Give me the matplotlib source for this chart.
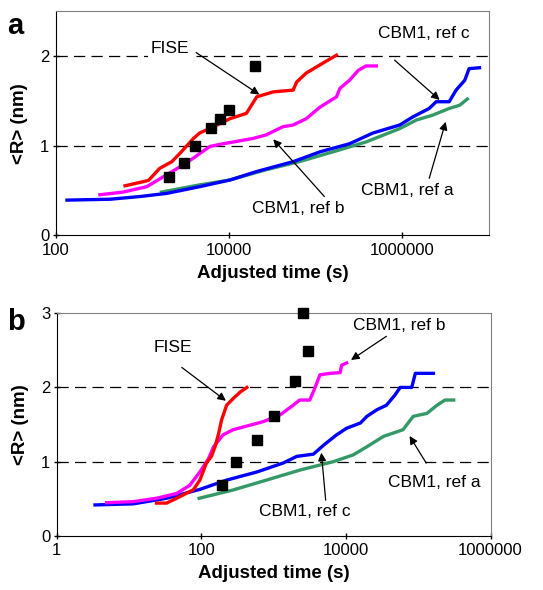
import numpy as np
import matplotlib.pyplot as plt
from matplotlib.ticker import FixedLocator, FixedFormatter, NullLocator

plt.rcParams['font.family'] = ['Liberation Sans', 'DejaVu Sans']

# ---- panel a data (log10 of time, <R> in nm) ----
a_fise_lx = [2.80, 3.07, 3.20, 3.34, 3.45, 3.59, 3.66, 3.82, 4.01, 4.20, 4.32, 4.51, 4.74, 4.78, 4.89, 5.08, 5.24]
a_fise_r = [0.55, 0.61, 0.745, 0.82, 0.93, 1.08, 1.14, 1.21, 1.30, 1.36, 1.545, 1.60, 1.62, 1.71, 1.81, 1.92, 2.01]
a_refb_lx = [2.51, 2.78, 3.05, 3.24, 3.43, 3.59, 3.66, 3.78, 3.93, 4.05, 4.28, 4.43, 4.62, 4.74, 4.89, 5.05, 5.24, 5.28, 5.39, 5.49, 5.58, 5.70]
a_refb_r = [0.45, 0.48, 0.54, 0.65, 0.76, 0.86, 0.91, 0.99, 1.02, 1.04, 1.08, 1.12, 1.21, 1.23, 1.30, 1.43, 1.545, 1.64, 1.73, 1.84, 1.89, 1.89]
a_refc_lx = [2.13, 2.63, 2.97, 3.28, 3.66, 4.01, 4.32, 4.74, 5.05, 5.39, 5.66, 5.97, 6.12, 6.31, 6.39, 6.54, 6.62, 6.72, 6.77, 6.89]
a_refc_r = [0.39, 0.40, 0.43, 0.465, 0.54, 0.615, 0.71, 0.82, 0.93, 1.02, 1.14, 1.23, 1.32, 1.415, 1.49, 1.49, 1.62, 1.73, 1.86, 1.87]
a_refa_lx = [3.22, 3.66, 4.01, 4.43, 4.81, 5.20, 5.58, 5.97, 6.16, 6.35, 6.54, 6.66, 6.75]
a_refa_r = [0.48, 0.56, 0.615, 0.73, 0.82, 0.93, 1.04, 1.19, 1.285, 1.34, 1.415, 1.45, 1.52]
a_sq_lx = [3.31, 3.48, 3.61, 3.79, 3.89, 4.00, 4.30]
a_sq_r = [0.645, 0.80, 1.00, 1.20, 1.30, 1.40, 1.89]

# ---- panel b data ----
b_fise_lx = [1.38, 1.52, 1.71, 1.89, 1.98, 2.07, 2.14, 2.19, 2.24, 2.28, 2.35, 2.44, 2.54, 2.63]
b_fise_r = [0.44, 0.44, 0.53, 0.62, 0.75, 0.98, 1.07, 1.20, 1.38, 1.56, 1.76, 1.85, 1.94, 2.00]
b_refb_lx = [0.69, 1.06, 1.38, 1.66, 1.84, 1.98, 2.10, 2.17, 2.30, 2.44, 2.67, 2.86, 3.09, 3.27, 3.36, 3.50, 3.57, 3.64, 3.78, 3.92, 3.94, 4.01]
b_refb_r = [0.445, 0.46, 0.505, 0.57, 0.68, 0.86, 1.04, 1.20, 1.36, 1.43, 1.49, 1.54, 1.63, 1.76, 1.83, 1.83, 1.99, 2.17, 2.19, 2.20, 2.30, 2.33]
b_refc_lx = [0.53, 1.06, 1.52, 1.98, 2.35, 2.77, 3.13, 3.32, 3.55, 3.69, 3.87, 4.01, 4.20, 4.29, 4.43, 4.56, 4.68, 4.75, 4.91, 4.96, 5.21]
b_refc_r = [0.415, 0.43, 0.505, 0.625, 0.75, 0.86, 0.98, 1.07, 1.10, 1.22, 1.36, 1.45, 1.52, 1.61, 1.70, 1.76, 1.90, 2.00, 2.00, 2.19, 2.19]
b_refa_lx = [1.97, 2.44, 2.90, 3.37, 3.83, 4.10, 4.29, 4.52, 4.79, 4.93, 5.12, 5.26, 5.37, 5.49]
b_refa_r = [0.505, 0.617, 0.75, 0.887, 1.00, 1.09, 1.20, 1.34, 1.43, 1.61, 1.65, 1.76, 1.83, 1.83]
b_sq_lx = [2.28, 2.48, 2.77, 3.01, 3.30, 3.40, 3.48]
b_sq_r = [0.69, 1.00, 1.29, 1.61, 2.09, 3.00, 2.49]

RED, MAG, BLUE, GREEN = '#ff0000', '#ff00ff', '#0000ff', '#339966'


def setup(ax, xlim, ylim, xticks, yticks):
    ax.set_xscale('log')
    ax.set_xlim(*xlim)
    ax.set_ylim(*ylim)
    ax.xaxis.set_major_locator(FixedLocator(xticks))
    ax.xaxis.set_major_formatter(FixedFormatter([str(int(t)) for t in xticks]))
    ax.xaxis.set_minor_locator(NullLocator())
    ax.set_yticks(yticks)
    ax.set_yticklabels([str(t) for t in yticks])
    ax.tick_params(axis='both', direction='inout', length=5, width=1, labelsize=12)
    ax.tick_params(axis='x', pad=3)
    ax.tick_params(axis='y', pad=2)
    for s in ['top', 'right']:
        ax.spines[s].set_color('#808080')
    for s in ['left', 'bottom']:
        ax.spines[s].set_color('black')
    for y in (1, 2):
        ax.axhline(y, color='black', lw=0.9, dashes=(9, 5), zorder=1)
    ax.set_xlabel('Adjusted time (s)', fontsize=13.5, fontweight='bold', labelpad=5)
    ax.set_ylabel('<R> (nm)', fontsize=13.5, fontweight='bold', labelpad=9)


def curve(ax, lx, r, c):
    ax.plot(10 ** np.array(lx), r, color=c, lw=2.4, zorder=3, solid_joinstyle='round')


def label(ax, text, pos, start, tip):
    # text and arrow placed separately (positions in log10 x)
    ax.text(10 ** pos[0], pos[1], text, fontsize=12.5, ha='center', va='center', zorder=2,
            bbox=dict(boxstyle='square,pad=0.15', fc='white', ec='none'))
    ax.annotate('', xy=(10 ** tip[0], tip[1]), xytext=(10 ** start[0], start[1]),
                arrowprops=dict(arrowstyle='-|>', color='black', lw=0.9, mutation_scale=12,
                                shrinkA=0, shrinkB=0))


fig = plt.figure(figsize=(5.43, 5.9), dpi=100)
ax1 = fig.add_axes([0.1026, 0.6017, 0.798, 0.379])
ax2 = fig.add_axes([0.1044, 0.092, 0.799, 0.377])

# panel a
setup(ax1, (100, 1e7), (0, 2.5), [100, 10000, 1000000], [0, 1, 2])
curve(ax1, a_refa_lx, a_refa_r, GREEN)
curve(ax1, a_refc_lx, a_refc_r, BLUE)
curve(ax1, a_refb_lx, a_refb_r, MAG)
curve(ax1, a_fise_lx, a_fise_r, RED)
ax1.plot(10 ** np.array(a_sq_lx), a_sq_r, 's', color='black', ms=6.5, zorder=4)
label(ax1, 'FISE', (3.32, 2.08), (3.62, 2.04), (4.35, 1.57))
label(ax1, 'CBM1, ref c', (6.25, 2.25), (5.91, 1.955), (6.43, 1.51))
label(ax1, 'CBM1, ref a', (6.06, 0.50), (6.31, 0.634), (6.50, 1.266))
label(ax1, 'CBM1, ref b', (4.80, 0.30), (5.10, 0.43), (4.51, 1.07))
fig.text(0.014, 0.98, 'a', fontsize=21, fontweight='bold', va='top', ha='left')

# panel b
setup(ax2, (1, 1e6), (0, 3), [1, 100, 10000, 1000000], [0, 1, 2, 3])
curve(ax2, b_refa_lx, b_refa_r, GREEN)
curve(ax2, b_refc_lx, b_refc_r, BLUE)
curve(ax2, b_refb_lx, b_refb_r, MAG)
curve(ax2, b_fise_lx, b_fise_r, RED)
ax2.plot(10 ** np.array(b_sq_lx), b_sq_r, 's', color='black', ms=6.5, zorder=4, clip_on=False)
label(ax2, 'FISE', (1.60, 2.54), (1.73, 2.27), (2.34, 1.82))
label(ax2, 'CBM1, ref b', (4.74, 2.83), (4.56, 2.69), (4.07, 2.37))
label(ax2, 'CBM1, ref c', (3.43, 0.32), (3.72, 0.48), (3.66, 1.12))
label(ax2, 'CBM1, ref a', (5.22, 0.715), (5.11, 0.98), (4.88, 1.345))
fig.text(0.014, 0.478, 'b', fontsize=21, fontweight='bold', va='top', ha='left')

fig.savefig('out.png', dpi=100)
